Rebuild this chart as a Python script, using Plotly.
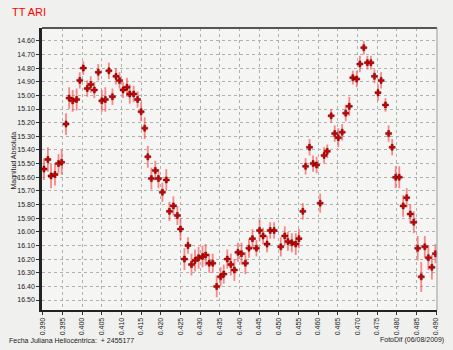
import plotly.graph_objects as go

# Heliocentric Julian date offsets (+2455177) and absolute magnitudes
jd = [0.3903, 0.3913, 0.3921, 0.3931, 0.3940, 0.3948, 0.3959, 0.3967, 0.3976, 0.3986,
      0.3994, 0.4003, 0.4013, 0.4022, 0.4031, 0.4041, 0.4050, 0.4059, 0.4068, 0.4077,
      0.4086, 0.4095, 0.4104, 0.4114, 0.4121, 0.4131, 0.4141, 0.4150, 0.4159, 0.4167,
      0.4176, 0.4186, 0.4194, 0.4204, 0.4214, 0.4222, 0.4232, 0.4242, 0.4250, 0.4260,
      0.4269, 0.4278, 0.4287, 0.4296, 0.4306, 0.4314, 0.4323, 0.4332, 0.4342, 0.4352,
      0.4360, 0.4369, 0.4378, 0.4387, 0.4396, 0.4405, 0.4415, 0.4424, 0.4433, 0.4443,
      0.4451, 0.4460, 0.4470, 0.4478, 0.4488, 0.4505, 0.4515, 0.4523, 0.4533, 0.4543,
      0.4551, 0.4561, 0.4568, 0.4578, 0.4587, 0.4596, 0.4605, 0.4615, 0.4623, 0.4633,
      0.4642, 0.4651, 0.4661, 0.4670, 0.4679, 0.4688, 0.4698, 0.4706, 0.4716, 0.4725,
      0.4734, 0.4743, 0.4752, 0.4760, 0.4771, 0.4779, 0.4788, 0.4797, 0.4806, 0.4816,
      0.4825, 0.4834, 0.4843, 0.4853, 0.4862, 0.4871, 0.4880, 0.4889, 0.4898]
mag = [15.54, 15.47, 15.59, 15.58, 15.50, 15.49, 15.21, 15.02, 15.04, 15.03,
       14.89, 14.80, 14.95, 14.92, 14.96, 14.83, 15.04, 15.03, 14.82, 15.01,
       14.86, 14.89, 14.96, 14.94, 14.99, 14.99, 15.03, 15.12, 15.24, 15.45,
       15.61, 15.55, 15.61, 15.71, 15.62, 15.85, 15.81, 15.88, 15.98, 16.20,
       16.10, 16.24, 16.21, 16.19, 16.18, 16.17, 16.23, 16.23, 16.40, 16.33,
       16.31, 16.20, 16.24, 16.28, 16.15, 16.16, 16.23, 16.12, 16.05, 16.12,
       15.99, 16.03, 16.09, 15.99, 15.99, 16.11, 16.03, 16.07, 16.08, 16.09,
       16.05, 15.85, 15.52, 15.38, 15.50, 15.51, 15.79, 15.44, 15.41, 15.15,
       15.28, 15.31, 15.27, 15.13, 15.08, 14.87, 14.88, 14.77, 14.65, 14.76,
       14.76, 14.86, 14.98, 14.89, 15.07, 15.28, 15.38, 15.60, 15.60, 15.81,
       15.75, 15.87, 15.93, 16.12, 16.33, 16.11, 16.19, 16.26, 16.16]
err = [0.08, 0.09, 0.09, 0.08, 0.07, 0.09, 0.08, 0.08, 0.08, 0.08,
       0.06, 0.05, 0.06, 0.06, 0.06, 0.06, 0.08, 0.09, 0.06, 0.06,
       0.06, 0.06, 0.06, 0.07, 0.07, 0.06, 0.06, 0.07, 0.08, 0.08,
       0.08, 0.07, 0.07, 0.07, 0.08, 0.07, 0.07, 0.07, 0.08, 0.08,
       0.06, 0.08, 0.08, 0.08, 0.08, 0.08, 0.07, 0.07, 0.08, 0.07,
       0.07, 0.07, 0.08, 0.08, 0.07, 0.08, 0.08, 0.07, 0.07, 0.06,
       0.08, 0.06, 0.06, 0.06, 0.06, 0.07, 0.07, 0.07, 0.07, 0.08,
       0.07, 0.06, 0.06, 0.06, 0.06, 0.06, 0.07, 0.06, 0.05, 0.05,
       0.06, 0.07, 0.06, 0.06, 0.07, 0.05, 0.06, 0.06, 0.05, 0.05,
       0.05, 0.05, 0.06, 0.06, 0.05, 0.06, 0.06, 0.08, 0.08, 0.08,
       0.07, 0.07, 0.08, 0.09, 0.11, 0.08, 0.09, 0.09, 0.07]

x_ticks = [0.390 + 0.005 * i for i in range(21)]
y_ticks = [14.60 + 0.10 * i for i in range(20)]

fig = go.Figure()
fig.add_trace(go.Scatter(
    x=jd, y=mag, mode="markers",
    marker=dict(symbol="cross", size=5, color="#d00000",
                line=dict(color="#600000", width=0.5)),
    error_y=dict(type="data", array=err, visible=True,
                 color="rgba(255,60,60,0.6)", thickness=1.8, width=0),
    showlegend=False,
))

grid = dict(showgrid=True, gridcolor="#b0b0b0", griddash="dot", gridwidth=1)
fig.update_layout(
    width=453, height=350,
    margin=dict(l=42, r=16, t=28, b=40),
    paper_bgcolor="#f0f0ef",
    plot_bgcolor="#f5f5f4",
    font=dict(family="Liberation Sans, Arial, sans-serif", size=7, color="#222"),
    xaxis=dict(range=[0.3898, 0.4902], tickvals=x_ticks, tickformat=".3f",
               tickangle=-90, ticks="outside", ticklen=3, tickcolor="#333",
               showline=True, linecolor="#222", linewidth=2, mirror=False,
               zeroline=False, tickfont=dict(size=7), automargin=False, **grid),
    yaxis=dict(range=[16.573, 14.506], tickvals=y_ticks, tickformat=".2f",
               ticks="outside", ticklen=3, tickcolor="#333",
               showline=True, linecolor="#222", linewidth=2.5, mirror=False,
               zeroline=False, tickfont=dict(size=7), automargin=False,
               **grid),
    shapes=[
        dict(type="line", xref="paper", yref="paper", x0=0, x1=1, y0=1, y1=1,
             line=dict(color="#555", width=2)),
        dict(type="line", xref="paper", yref="paper", x0=1, x1=1, y0=0, y1=1,
             line=dict(color="#999", width=1)),
    ],
    annotations=[
        dict(text="TT ARI", xref="paper", yref="paper", x=-32/395, y=1 + 16/282,
             xanchor="left", yanchor="middle", showarrow=False,
             font=dict(size=11, color="#ff0000")),
        dict(text="Magnitud Absoluta", xref="paper", yref="paper", x=-28/395, y=0.53,
             xanchor="center", yanchor="middle", textangle=-90, showarrow=False,
             font=dict(size=7, color="#222")),
        dict(text="Fecha Juliana Heliocéntrica:  + 2455177", xref="paper", yref="paper",
             x=-35/395, y=-30/282, xanchor="left", yanchor="middle", showarrow=False,
             font=dict(size=7, color="#222")),
        dict(text="FotoDif (06/08/2009)", xref="paper", yref="paper",
             x=1 + 9/395, y=-30/282, xanchor="right", yanchor="middle", showarrow=False,
             font=dict(size=7, color="#222")),
    ],
)

fig.write_html("out.html", config={"displayModeBar": False},
               post_script="document.body.style.margin='0';document.body.style.overflow='hidden';")
